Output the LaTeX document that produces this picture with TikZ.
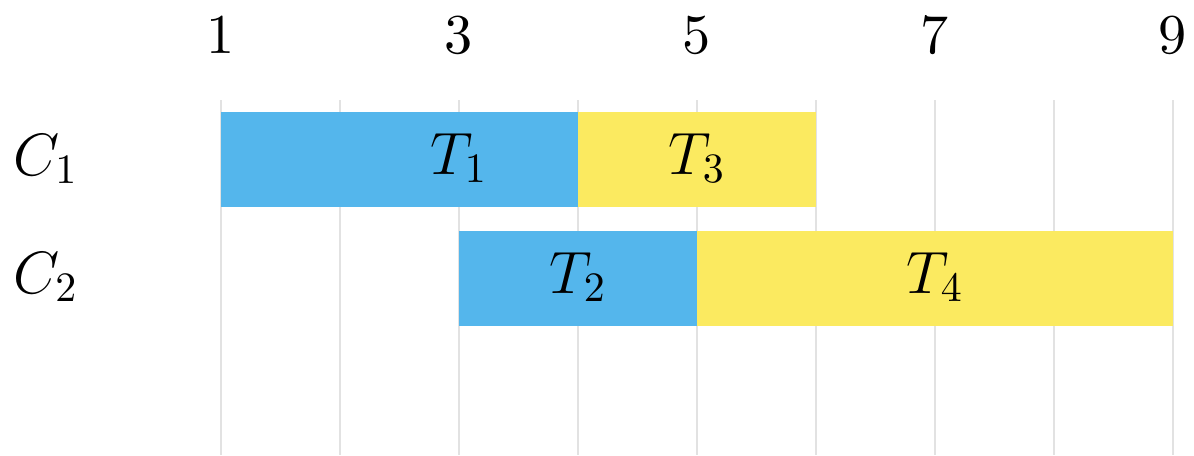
\documentclass[tikz,border=0pt]{standalone}
\usepackage{fix-cm}
\definecolor{taskblue}{RGB}{84, 182, 236}
\definecolor{taskyellow}{RGB}{251, 234, 96}
\definecolor{gridgray}{RGB}{226, 226, 226}
\font\hourfont=cmr10 at 16pt
\usepackage{tikz}
\usetikzlibrary{positioning}

\begin{document}
\begin{tikzpicture}[x=1.19cm, y=-1cm,
    tasklabel/.style={font=\fontsize{17}{20}\selectfont, anchor=base, inner sep=0pt},
    corelabel/.style={font=\fontsize{17}{20}\selectfont, anchor=base west, inner sep=0pt},
    hourlabel/.style={font=\hourfont, anchor=base, inner sep=0pt}]
  \useasboundingbox (-0.857, 0) rectangle (9.176, 4.55);

  % Time grid
  \foreach \h in {1,...,9}
    \draw[gridgray, line width=0.5pt] (\h, 1.0) -- (\h, 4.55);
  \foreach \h in {1,3,5,7,9}
    \node[hourlabel] (h\h) at (\h, 0.53) {\h};

  % Core C1
  \node[corelabel] (c1) at (-0.75, 1.75) {$C_1$};
  \fill[taskblue] (1, 1.12) rectangle (4, 2.07);
  \fill[taskyellow] (4, 1.12) rectangle (6, 2.07);
  \node[tasklabel] (t1) at (3, 1.74) {$T_1$};
  \node[tasklabel] (t3) at (5, 1.74) {$T_3$};

  % Core C2
  \node[corelabel] (c2) at (-0.75, 2.93) {$C_2$};
  \fill[taskblue] (3, 2.31) rectangle (5, 3.26);
  \fill[taskyellow] (5, 2.31) rectangle (9, 3.26);
  \node[tasklabel] (t2) at (4, 2.93) {$T_2$};
  \node[tasklabel] (t4) at (7, 2.93) {$T_4$};
\end{tikzpicture}
\end{document}
